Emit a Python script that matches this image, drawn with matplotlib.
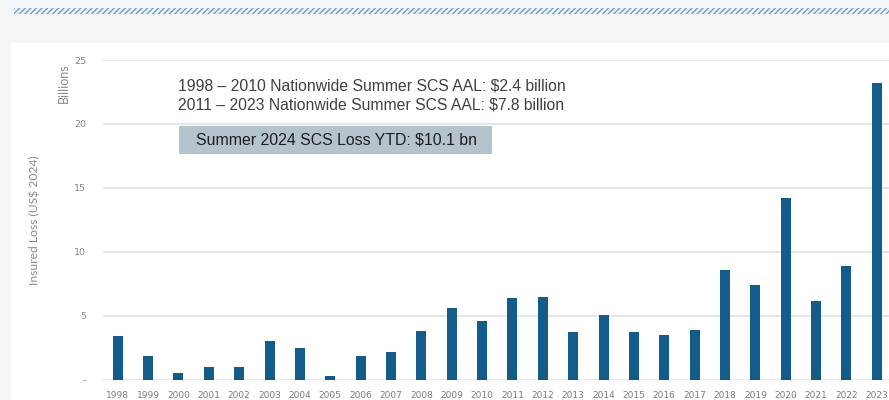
import matplotlib.pyplot as plt
from matplotlib.patches import Rectangle
import numpy as np

# Summer severe convective storm insured losses, US$ billions (2024)
years = [str(y) for y in range(1998, 2024)]
losses = [3.42, 1.84, 0.5, 0.95, 0.95, 2.98, 2.44, 0.25, 1.84, 2.13,
          3.79, 5.56, 4.6, 6.39, 6.45, 3.69, 5.04, 3.73, 3.45, 3.84,
          8.53, 7.38, 14.2, 6.13, 8.87, 23.2]
y_ticks = [0, 5, 10, 15, 20, 25]
y_tick_labels = ["-", "5", "10", "15", "20", "25"]
note_lines = ["1998 \u2013 2010 Nationwide Summer SCS AAL: $2.4 billion",
              "2011 \u2013 2023 Nationwide Summer SCS AAL: $7.8 billion"]
ytd_note = "Summer 2024 SCS Loss YTD: $10.1 bn"

W, H = 889, 400
fig = plt.figure(figsize=(W / 100, H / 100), dpi=100)
fig.patch.set_facecolor("#f4f5f6")

# white slide panel
fig.patches.append(Rectangle((11 / W, 0), 1, (H - 43) / H, transform=fig.transFigure,
                             facecolor="white", edgecolor="none", zorder=-10))
# hatched band at the top
fig.patches.append(Rectangle((14 / W, (H - 14) / H), 1, 6 / H, transform=fig.transFigure,
                             facecolor="#eef4f8", edgecolor="#6f9fbd", hatch="//////",
                             linewidth=0, zorder=-10))

ax = fig.add_axes([103 / W, 20.5 / H, (W - 103) / W, (340 - 20.5) / H])
ax.set_facecolor("none")
x = np.arange(len(years))
ax.bar(x, losses, width=0.33, color="#135b88", zorder=3)
ax.set_xlim(-0.484, 25.4)
ax.set_ylim(0, 25)

ax.set_yticks(y_ticks)
ax.set_yticklabels(y_tick_labels, fontsize=6.8, color="#858585", family="DejaVu Sans")
ax.set_xticks(x)
ax.set_xticklabels(years, fontsize=6.5, color="#7a7a7a", family="DejaVu Sans")
ax.tick_params(length=0)
ax.tick_params(axis="y", pad=12)
ax.tick_params(axis="x", pad=8)
ax.grid(axis="y", color="#e2e2e2", linewidth=1.2, zorder=0)
for s in ax.spines.values():
    s.set_visible(False)

fig.text(64 / W, 1 - 83 / H, "Billions", rotation=90, ha="center", va="center",
         fontsize=9, color="#8a8a8a", family="Lato")
fig.text(35 / W, 1 - 220 / H, "Insured Loss (US$ 2024)", rotation=90, ha="center",
         va="center", fontsize=8.7, color="#8a8a8a", family="Lato")

fig.text(178 / W, 1 - 86 / H, note_lines[0], ha="left", va="center", fontsize=11.3,
         color="#404040", family="Liberation Sans")
fig.text(178 / W, 1 - 105 / H, note_lines[1], ha="left", va="center", fontsize=11.3,
         color="#404040", family="Liberation Sans")

fig.patches.append(Rectangle((179 / W, 1 - 154 / H), (492 - 179) / W, 28 / H,
                             transform=fig.transFigure, facecolor="#b5c3cc",
                             edgecolor="none", zorder=1))
fig.text(196 / W, 1 - 140 / H, ytd_note, ha="left", va="center", fontsize=11.4,
         color="#1e1e1e", family="Liberation Sans", zorder=2)

fig.savefig("out.png", dpi=100, facecolor=fig.get_facecolor())
